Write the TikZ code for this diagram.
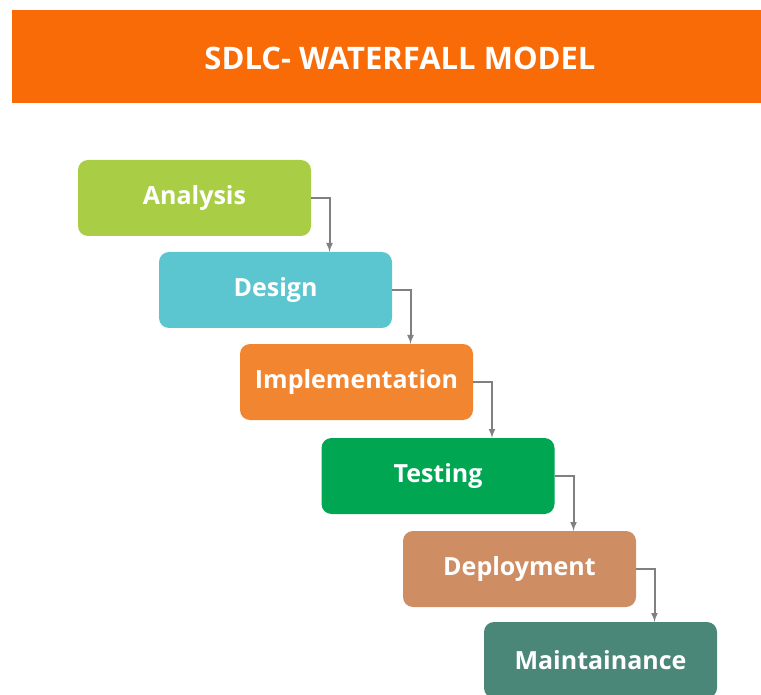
\documentclass[tikz,border=0pt]{standalone}
\usepackage{fontspec}
\setmainfont{Open Sans}
\usepackage{tikz}
\usetikzlibrary{arrows}

\definecolor{banner}{RGB}{249,107,7}
\definecolor{analysiscol}{RGB}{169,205,69}
\definecolor{designcol}{RGB}{91,197,208}
\definecolor{implcol}{RGB}{242,133,48}
\definecolor{testcol}{RGB}{0,166,81}
\definecolor{deploycol}{RGB}{206,141,98}
\definecolor{maintcol}{RGB}{74,135,120}
\definecolor{linkcol}{RGB}{128,128,128}

\tikzset{
  phase/.style={rectangle, rounded corners=10pt, minimum width=233pt, minimum height=76pt,
    inner sep=0pt, text=white, font=\fontsize{25}{28}\selectfont\bfseries},
  link/.style={draw=linkcol, line width=2pt, ->, >=latex}
}

\begin{document}
\begin{tikzpicture}[x=1pt,y=-1pt]
\useasboundingbox (0,0) rectangle (761,695);
\fill[banner] (12,10) rectangle (761,103);
\node[text=white, font=\fontsize{31}{34}\selectfont\bfseries] (title) at (400,58) {SDLC- WATERFALL MODEL};
\node[phase, fill=analysiscol] (ana) at (194.5,198) {Analysis};
\node[phase, fill=designcol] (des) at (275.5,290) {Design};
\node[phase, fill=implcol] (imp) at (356.5,382) {Implementation};
\node[phase, fill=testcol] (tes) at (438,476) {Testing};
\node[phase, fill=deploycol] (dep) at (519.5,569) {Deployment};
\node[phase, fill=maintcol] (mai) at (600.5,660) {Maintainance};
\draw[link] (ana.east) -| ([xshift=54pt]des.north);
\draw[link] (des.east) -| ([xshift=54pt]imp.north);
\draw[link] (imp.east) -| ([xshift=54pt]tes.north);
\draw[link] (tes.east) -| ([xshift=54pt]dep.north);
\draw[link] (dep.east) -| ([xshift=54pt]mai.north);
\end{tikzpicture}
\end{document}
